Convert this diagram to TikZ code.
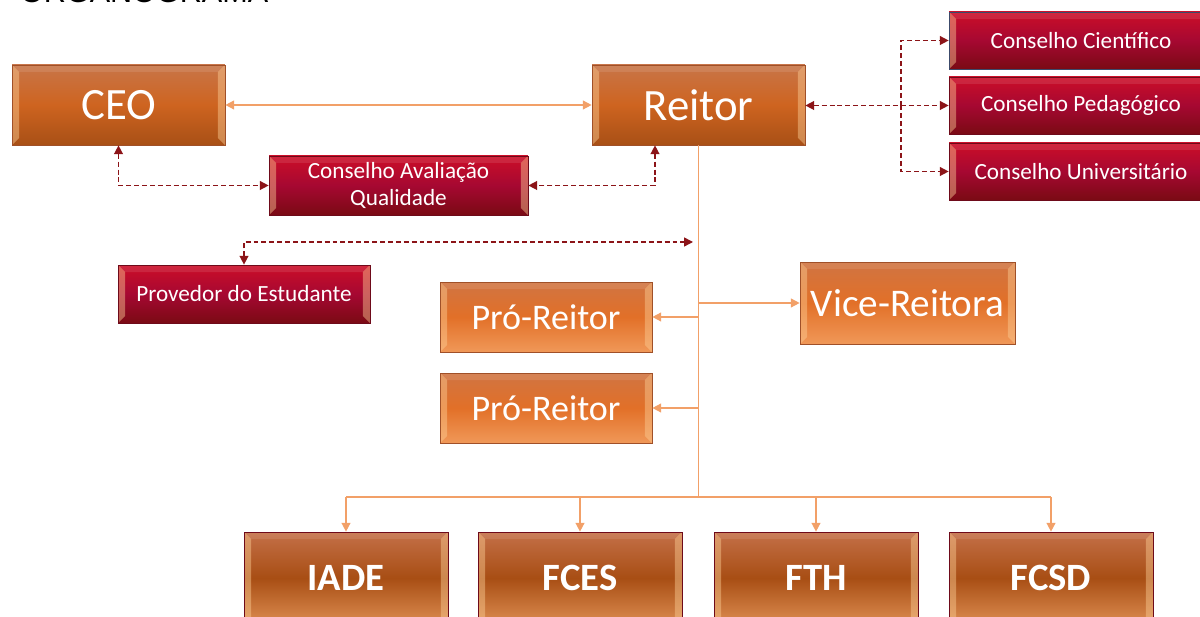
\documentclass[tikz,border=0pt]{standalone}
\usepackage{fontspec}
\setmainfont{Carlito}
\newfontfamily\titlefont{Liberation Sans}
\usetikzlibrary{arrows.meta,positioning,calc}
\definecolor{orTop}{RGB}{200,117,72}
\definecolor{orMid}{RGB}{206,100,32}
\definecolor{orBot}{RGB}{168,80,22}
\definecolor{orEdge}{RGB}{160,80,40}
\definecolor{ltTop}{RGB}{208,116,66}
\definecolor{ltMid}{RGB}{226,112,40}
\definecolor{ltBot}{RGB}{240,152,88}
\definecolor{fcTop}{RGB}{196,112,72}
\definecolor{fcMid}{RGB}{168,78,20}
\definecolor{fcBot}{RGB}{220,140,80}
\definecolor{rdTop}{RGB}{204,14,40}
\definecolor{rdMid}{RGB}{166,8,50}
\definecolor{rdBot}{RGB}{122,10,20}
\definecolor{rdEdge}{RGB}{110,10,26}
\definecolor{blEdge}{RGB}{60,74,106}
\definecolor{bevelCol}{RGB}{252,206,150}
\definecolor{orLine}{RGB}{242,160,104}
\definecolor{dashRed}{RGB}{140,20,24}

\tikzset{
  bevel/.style={path picture={
    \fill[bevelCol, opacity=.45] (path picture bounding box.north west) -- ++(7,7)
      -- ($(path picture bounding box.south west)+(7,-7)$)
      -- (path picture bounding box.south west) -- cycle;
    \fill[bevelCol, opacity=.45] (path picture bounding box.north east) -- ++(-7,7)
      -- ($(path picture bounding box.south east)+(-7,-7)$)
      -- (path picture bounding box.south east) -- cycle;
    \fill[white, opacity=.1] (path picture bounding box.north west) -- ++(7,7)
      -- ($(path picture bounding box.north east)+(-7,7)$)
      -- (path picture bounding box.north east) -- cycle;}},
  mainbox/.style={bevel, draw=orEdge, top color=orTop, bottom color=orBot,
    middle color=orMid, text=white, inner sep=0pt,
    font=\fontsize{25.5}{28}\selectfont},
  subbox/.style={bevel, draw=orEdge, top color=ltTop, bottom color=ltBot,
    middle color=ltMid, text=white, inner sep=0pt},
  facbox/.style={bevel, draw=rdEdge, top color=fcTop, bottom color=fcBot,
    middle color=fcMid, text=white, inner sep=0pt,
    minimum width=4.08cm, minimum height=1.84cm,
    font=\bfseries\fontsize{22}{24}\selectfont},
  redbox/.style={bevel, draw=rdEdge, top color=rdTop, bottom color=rdBot,
    middle color=rdMid, text=white, inner sep=0pt,
    font=\fontsize{13.2}{15.9}\selectfont},
  orlink/.style={orLine, line width=0.9pt},
  orarrow/.style={orlink, -{Triangle[length=5pt,width=5pt]}},
  dashlink/.style={dashRed, line width=0.8pt, dash pattern=on 2.8pt off 1.7pt,
    {Triangle[length=5pt,width=5pt]}-{Triangle[length=5pt,width=5pt]}},
  dashone/.style={dashRed, line width=0.8pt, dash pattern=on 2.8pt off 1.7pt,
    -{Triangle[length=5pt,width=5pt]}}
}

\begin{document}
\begin{tikzpicture}[x=0.02cm, y=-0.02cm]
  \useasboundingbox (0,0) rectangle (1200,617);
  \clip (0,0) rectangle (1200,617);

  \node[anchor=base west, font=\titlefont\fontsize{17.4}{20}\selectfont] (title) at (14,2.5) {ORGANOGRAMA};

  % top level
  \node[mainbox, minimum width=4.26cm, minimum height=1.6cm] (ceo) at (118.5,105) {CEO};
  \node[mainbox, minimum width=4.26cm, minimum height=1.6cm] (reitor) at (698.5,105) {Reitor};
  \draw[orlink, {Triangle[length=5pt,width=5pt]}-{Triangle[length=5pt,width=5pt]}] (ceo) -- (reitor);

  % councils
  \node[redbox, minimum width=5.18cm, minimum height=1.18cm, align=center] (caq) at (398.5,185.5)
    {Conselho Avaliação\\Qualidade};
  \node[redbox, minimum width=5.04cm, minimum height=1.16cm] (prov) at (244,294) {Provedor do Estudante};
  \node[redbox, draw=blEdge, minimum width=5.28cm, minimum height=1.14cm] (cc) at (1081,40.5) {Conselho Cientí{}fico};
  \node[redbox, minimum width=5.28cm, minimum height=1.14cm] (cp) at (1081,105.5) {Conselho Pedagógico};
  \node[redbox, minimum width=5.28cm, minimum height=1.14cm] (cu) at (1081,171.5) {Conselho Universitário};

  \coordinate (rq) at ($(reitor.south)+(-43.5,0)$);
  \coordinate (pe) at (693,242);
  \coordinate (cj) at (901,105.5);
  \draw[dashlink] (ceo.south) |- (caq.west);
  \draw[dashlink] (rq) |- (caq.east);
  \draw[dashlink] (prov.north) |- (pe);
  \draw[dashlink] (reitor.east |- cp) -- (cp.west);
  \draw[dashone] (cj) |- (cc.west);
  \draw[dashone] (cj) |- (cu.west);

  % vice and pro
  \node[subbox, minimum width=4.24cm, minimum height=1.4cm, font=\fontsize{20.5}{22}\selectfont] (pr1) at (546,317) {Pró-Reitor};
  \node[subbox, minimum width=4.24cm, minimum height=1.4cm, font=\fontsize{20.5}{22}\selectfont] (pr2) at (546,408) {Pró-Reitor};
  \node[subbox, minimum width=4.3cm, minimum height=1.64cm, font=\fontsize{22.3}{24}\selectfont] (vice) at (907.5,303) {Vice-Reitora};

  % faculties
  \node[facbox] (iade) at (346,578) {IADE};
  \node[facbox] (fces) at (580,578) {FCES};
  \node[facbox] (fth) at (816,578) {FTH};
  \node[facbox] (fcsd) at (1051,578) {FCSD};

  \coordinate (hub) at (698.5,497);
  \draw[orlink] (reitor.south) -- (hub);
  \draw[orarrow] (reitor.south |- pr1) -- (pr1.east);
  \draw[orarrow] (reitor.south |- pr2) -- (pr2.east);
  \draw[orarrow] (reitor.south |- vice) -- (vice.west);
  \draw[orlink] (iade.north |- hub) -- (fcsd.north |- hub);
  \foreach \f in {iade,fces,fth,fcsd}
    \draw[orarrow] (\f.north |- hub) -- (\f.north);
\end{tikzpicture}
\end{document}
